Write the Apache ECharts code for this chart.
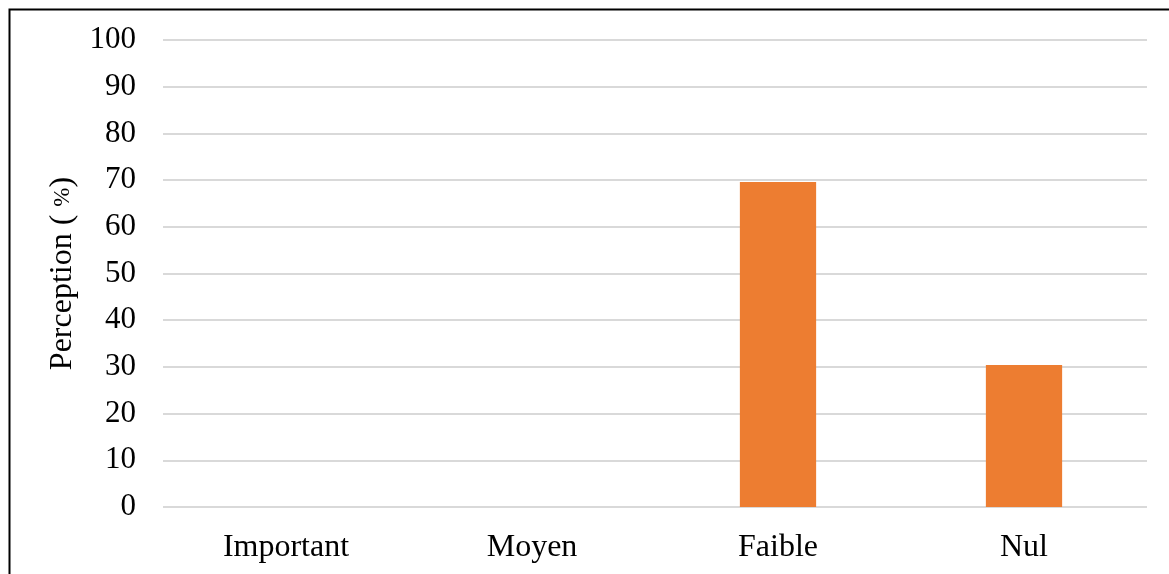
<!DOCTYPE html>
<html>
<head>
<meta charset="utf-8">
<script src="https://cdn.jsdelivr.net/npm/echarts@6/dist/echarts.min.js"></script>
<style>
  html, body { margin: 0; padding: 0; background: #fff; }
  #chart { width: 1169px; height: 574px; }
</style>
</head>
<body>
<div id="chart"></div>
<script>
const categories = ['Important', 'Moyen', 'Faible', 'Nul']
const perception = [0, 0, 69.6, 30.4]
const yMin = 0
const yMax = 100
const yStep = 10

const chart = echarts.init(document.getElementById('chart'))
const font = '"Liberation Serif", "Times New Roman", serif'

const option = {
  animation: false,
  backgroundColor: '#fff',
  graphic: [
    {
      type: 'rect',
      shape: { x: 9.5, y: 9.5, width: 1200, height: 600 },
      style: { fill: 'none', stroke: '#000', lineWidth: 2 },
      silent: true
    }
  ],
  grid: {
    left: 163,
    right: 22,
    top: 40,
    bottom: 67
  },
  xAxis: {
    type: 'category',
    data: categories,
    axisLine: { show: false },
    axisTick: { show: false },
    axisLabel: {
      margin: 25,
      color: '#000',
      fontFamily: font,
      fontSize: 32
    }
  },
  yAxis: {
    type: 'value',
    min: yMin,
    max: yMax,
    interval: yStep,
    name: 'Perception ( {s|%})',
    nameLocation: 'middle',
    nameGap: 84,
    nameTextStyle: {
      color: '#000',
      fontFamily: font,
      fontSize: 32,
      rich: {
        s: { fontFamily: font, fontSize: 23, color: '#000' }
      }
    },
    axisLine: { show: false },
    axisTick: { show: false },
    axisLabel: {
      margin: 27,
      color: '#000',
      fontFamily: font,
      fontSize: 31
    },
    splitLine: {
      lineStyle: { color: '#d9d9d9', width: 2 }
    }
  },
  series: [
    {
      type: 'bar',
      data: perception,
      barWidth: '31%',
      itemStyle: { color: '#ed7d31' }
    }
  ]
}
chart.setOption(option)
</script>
</body>
</html>
